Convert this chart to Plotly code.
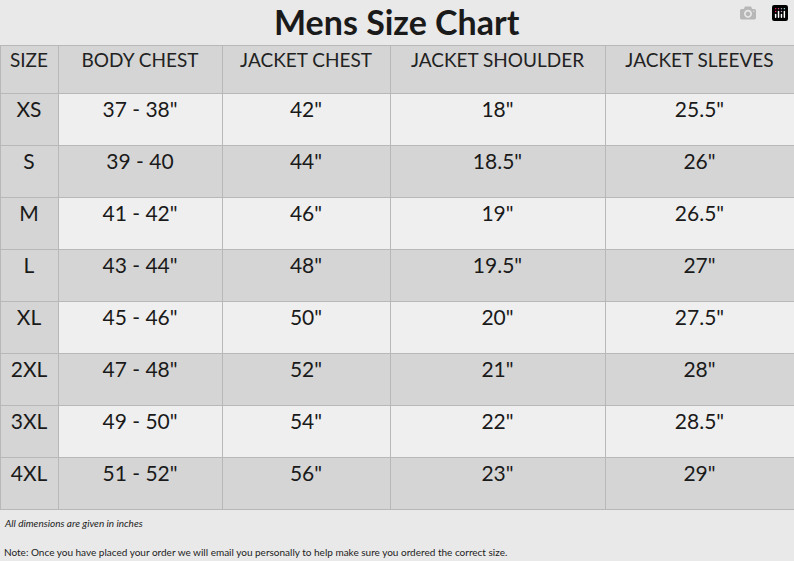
import plotly.graph_objects as go

headers = ['SIZE', 'BODY CHEST', 'JACKET CHEST', 'JACKET SHOULDER', 'JACKET SLEEVES']
sizes = ['XS', 'S', 'M', 'L', 'XL', '2XL', '3XL', '4XL']
body_chest = ['37 - 38"', '39 - 40', '41 - 42"', '43 - 44"', '45 - 46"', '47 - 48"', '49 - 50"', '51 - 52"']
jacket_chest = ['42"', '44"', '46"', '48"', '50"', '52"', '54"', '56"']
jacket_shoulder = ['18"', '18.5"', '19"', '19.5"', '20"', '21"', '22"', '23"']
jacket_sleeves = ['25.5"', '26"', '26.5"', '27"', '27.5"', '28"', '28.5"', '29"']

light = '#efefef'
dark = '#d5d5d5'
row_fill = [light if i % 2 == 0 else dark for i in range(len(sizes))]
first_fill = [dark] * len(sizes)

fig = go.Figure()
fig.add_trace(go.Table(
    domain=dict(x=[0, 1], y=[0, 1 - 45 / 561]),
    columnwidth=[58, 164, 168, 215, 189],
    header=dict(
        values=headers,
        fill_color=dark,
        line_color='#b8b8b8',
        align='center',
        height=48,
        font=dict(family='Lato', size=19, color='#222222'),
    ),
    cells=dict(
        values=[sizes, body_chest, jacket_chest, jacket_shoulder, jacket_sleeves],
        fill_color=[first_fill, row_fill, row_fill, row_fill, row_fill],
        line_color='#b8b8b8',
        align='center',
        height=52,
        font=dict(family='Lato', size=21, color='#1a1a1a'),
    ),
))

fig.add_annotation(text='<b>Mens Size Chart</b>', x=0.5, y=1 - 22 / 561, xref='paper', yref='paper',
                   yanchor='middle', showarrow=False, font=dict(family='Lato', size=34, color='#1a1a1a'))
fig.add_annotation(text='<i>All dimensions are given in inches</i>', x=0.002, y=1 - 523 / 561,
                   xref='paper', yref='paper', xanchor='left', yanchor='middle', showarrow=False,
                   font=dict(family='Lato', size=10, color='#222222'))
fig.add_annotation(text='Note: Once you have placed your order we will email you personally to help make sure you ordered the correct size.',
                   x=0.002, y=1 - 552 / 561, xref='paper', yref='paper', xanchor='left', yanchor='middle',
                   showarrow=False, font=dict(family='Lato', size=10, color='#222222'))

fig.update_layout(
    width=794, height=561,
    margin=dict(l=0, r=0, t=0, b=0),
    paper_bgcolor='#e9e9e9',
)

fig.write_html('out.html', post_script="document.body.style.margin='0';")
